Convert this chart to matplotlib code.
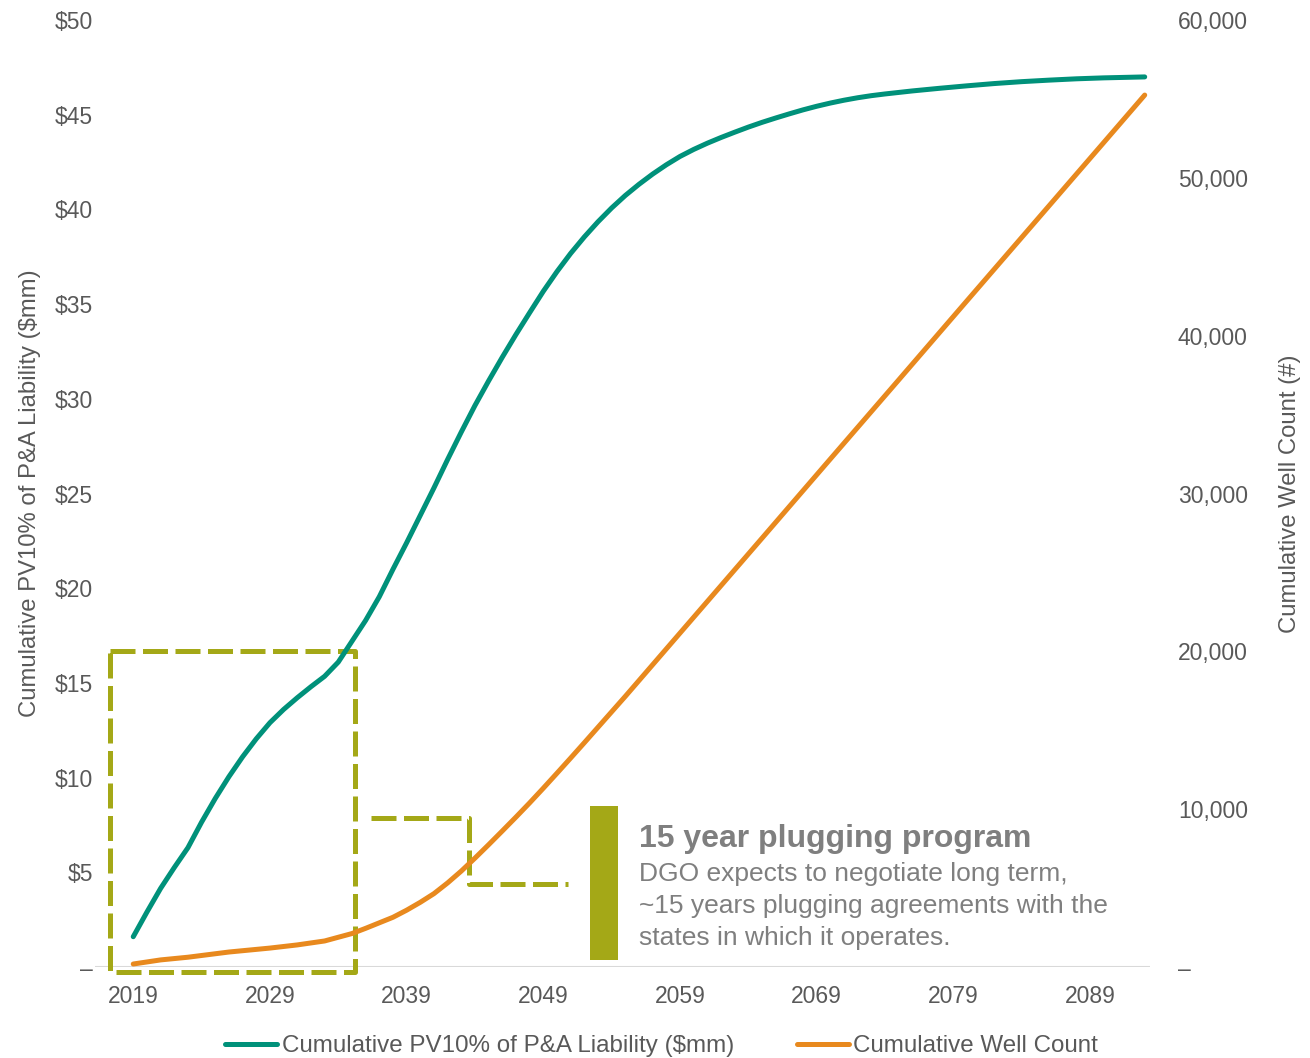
import matplotlib
matplotlib.use('Agg')
import matplotlib.pyplot as plt
from matplotlib.lines import Line2D

plt.rcParams['font.family'] = ['Liberation Sans', 'DejaVu Sans']

# cumulative PV10 of P&A liability ($mm)
pv_years = [2019, 2020, 2021, 2022, 2023, 2024, 2025, 2026, 2027, 2028, 2029, 2030, 2031,
            2032, 2033, 2034, 2035, 2036, 2037, 2038, 2039, 2040, 2041, 2042, 2043, 2044,
            2045, 2046, 2047, 2048, 2049, 2050, 2051, 2052, 2053, 2054, 2055, 2056, 2057,
            2058, 2059, 2060, 2061, 2062, 2063, 2064, 2065, 2066, 2067, 2068, 2069, 2070,
            2071, 2072, 2073, 2074, 2075, 2076, 2077, 2078, 2080, 2082, 2084, 2086, 2088,
            2090, 2093]
pv_values = [1.6, 2.9, 4.15, 5.25, 6.3, 7.65, 8.9, 10.05, 11.1, 12.05, 12.9, 13.6, 14.22,
             14.8, 15.35, 16.1, 17.2, 18.3, 19.55, 21.0, 22.4, 23.85, 25.3, 26.8, 28.25, 29.65,
             30.95, 32.2, 33.4, 34.55, 35.68, 36.72, 37.68, 38.55, 39.35, 40.08, 40.74, 41.33, 41.87,
             42.36, 42.8, 43.17, 43.5, 43.8, 44.08, 44.35, 44.6, 44.83, 45.05, 45.26, 45.45, 45.62,
             45.77, 45.9, 46.01, 46.1, 46.18, 46.26, 46.33, 46.4, 46.53, 46.65, 46.75, 46.83, 46.9,
             46.95, 47.0]

# cumulative well count
well_years = [2019, 2021, 2023, 2026, 2029, 2031, 2033, 2035, 2036, 2037, 2038, 2039, 2040,
              2041, 2042, 2043, 2044, 2045, 2046, 2047, 2048, 2049, 2050, 2051, 2052, 2053,
              2054, 2055, 2060, 2065, 2070, 2075, 2080, 2085, 2090, 2093]
well_values = [190, 450, 620, 950, 1200, 1400, 1650, 2120, 2450, 2800, 3150, 3600, 4100,
               4650, 5330, 6080, 6900, 7750, 8620, 9500, 10400, 11330, 12280, 13240, 14210, 15190,
               16170, 17150, 22160, 27170, 32190, 37200, 42220, 47230, 52240, 55250]

year_ticks = [2019, 2029, 2039, 2049, 2059, 2069, 2079, 2089]
left_ticks = [0, 5, 10, 15, 20, 25, 30, 35, 40, 45, 50]
left_labels = ['–'] + ['$%d' % v for v in left_ticks[1:]]
right_ticks = [0, 10000, 20000, 30000, 40000, 50000, 60000]
right_labels = ['–'] + ['{:,}'.format(v) for v in right_ticks[1:]]

green = '#00917A'
orange = '#E8891E'
olive = '#A4A817'
grey = '#595959'
note_grey = '#7F7F7F'

fig = plt.figure(figsize=(13.1, 10.58), dpi=100)
ax = fig.add_axes([0.0725, 0.086, 0.8055, 0.895])
ax2 = ax.twinx()

ax.plot(pv_years, pv_values, color=green, lw=3.6, solid_capstyle='round', zorder=3)
ax2.plot(well_years, well_values, color=orange, lw=3.6, solid_capstyle='round', zorder=3)

ax.set_xlim(2016.2, 2093.4)
ax.set_ylim(0, 50)
ax2.set_ylim(0, 60000)

for a in (ax, ax2):
    for s in a.spines.values():
        s.set_visible(False)
ax.axhline(0, color='#D9D9D9', lw=1.5, zorder=1)

ax.set_xticks(year_ticks)
ax.set_xticklabels([str(y) for y in year_ticks])
ax.set_yticks(left_ticks)
ax.set_yticklabels(left_labels)
ax2.set_yticks(right_ticks)
ax2.set_yticklabels(right_labels)
ax.tick_params(axis='x', length=0, labelsize=16.5, labelcolor=grey, pad=13)
ax.tick_params(axis='y', length=0, labelsize=16.5, labelcolor=grey, pad=1.5)
ax2.tick_params(axis='y', length=0, labelsize=16.5, labelcolor=grey, pad=20)

ax.set_ylabel('Cumulative PV10% of P&A Liability ($mm)', fontsize=17.2, color=grey, labelpad=9.5)
ax2.set_ylabel('Cumulative Well Count (#)', fontsize=17.2, color=grey, labelpad=22)

# dashed box around the first 15 years and connector to the note
dash = dict(color=olive, lw=3.6, dashes=(5, 1.5), clip_on=False, zorder=2)
ax.plot([2017.3, 2035.2, 2035.2, 2017.3, 2017.3], [16.7, 16.7, -0.26, -0.26, 16.7], **dash)
ax.plot([2036.4, 2043.6, 2043.6, 2050.8], [7.87, 7.87, 4.38, 4.38], **dash)

# note with olive bar
ax.bar(2053.45, 8.13, bottom=0.37, width=2.1, color=olive, zorder=2)
ax.text(2056.0, 6.75, '15 year plugging program', fontsize=23, fontweight='bold',
        color=note_grey, va='center', ha='left')
ax.text(2056.0, 4.93, 'DGO expects to negotiate long term,', fontsize=19,
        color=note_grey, va='center', ha='left')
ax.text(2056.0, 3.23, '~15 years plugging agreements with the', fontsize=19,
        color=note_grey, va='center', ha='left')
ax.text(2056.0, 1.55, 'states in which it operates.', fontsize=19,
        color=note_grey, va='center', ha='left')

handles = [Line2D([], [], color=green, lw=3.6, solid_capstyle='round'),
           Line2D([], [], color=orange, lw=3.6, solid_capstyle='round')]
fig.legend(handles, ['Cumulative PV10% of P&A Liability ($mm)', 'Cumulative Well Count'],
           loc='lower center', bbox_to_anchor=(0.505, -0.02), ncol=2, frameon=False,
           fontsize=17.4, handlelength=2.15, handletextpad=0.2, columnspacing=2.6,
           labelcolor=grey)

fig.savefig('out.png', dpi=100)
